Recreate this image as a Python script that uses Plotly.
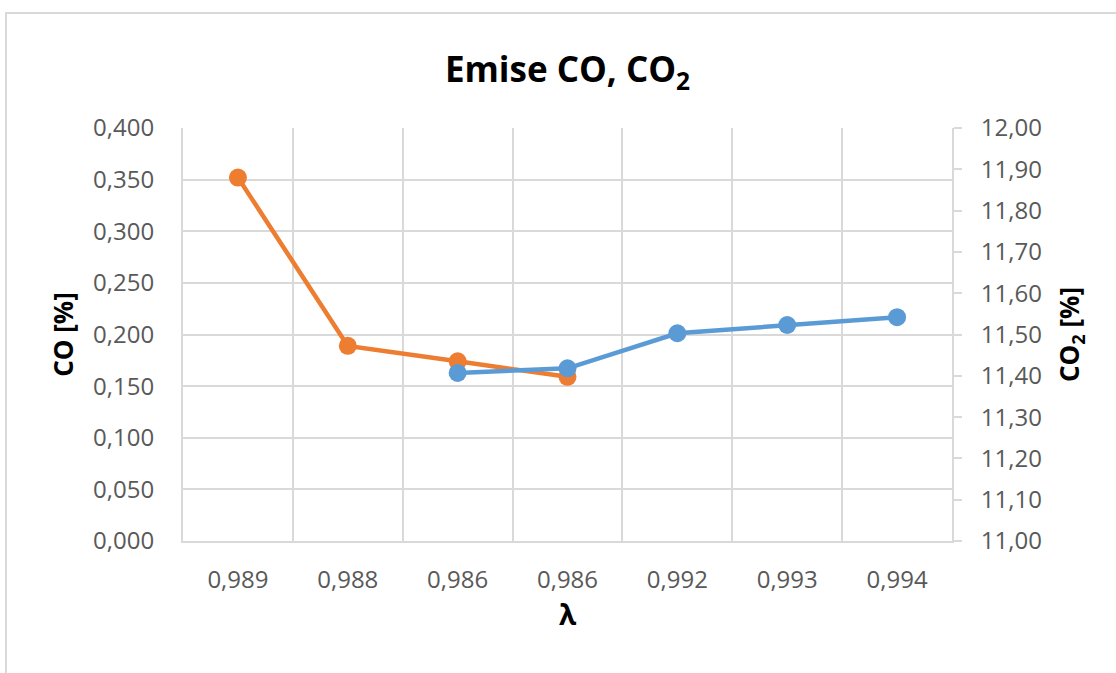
import plotly.graph_objects as go

# Lambda values for each measurement (shown as category labels)
lambda_labels = ["0,989", "0,988", "0,986", "0,986", "0,992", "0,993", "0,994"]
positions = list(range(len(lambda_labels)))

# CO [%] (left axis) and CO2 [%] (right axis)
co_values = [0.352, 0.189, 0.174, 0.159, None, None, None]
co2_values = [None, None, 11.407, 11.418, 11.503, 11.523, 11.542]

ORANGE = "#ED7D31"
BLUE = "#5B9BD5"
GRID = "#d9d9d9"
TICK_TEXT = "#595959"
FONT = "Open Sans"

fig = go.Figure()

fig.add_trace(go.Scatter(
    x=positions, y=co_values, name="CO",
    mode="lines+markers",
    line=dict(color=ORANGE, width=4.5),
    marker=dict(color=ORANGE, size=18),
    yaxis="y",
))

fig.add_trace(go.Scatter(
    x=positions, y=co2_values, name="CO<sub>2</sub>",
    mode="lines+markers",
    line=dict(color=BLUE, width=4.5),
    marker=dict(color=BLUE, size=18),
    yaxis="y2",
))

# chart frame
fig.add_shape(
    type="rect", xref="paper", yref="paper",
    x0=-0.2302, x1=1.4, y0=-0.6, y1=1.2785,
    line=dict(color=GRID, width=2), fillcolor="rgba(0,0,0,0)",
    layer="below",
)

fig.update_layout(
    width=1116, height=673,
    margin=dict(l=183, r=164, t=128, b=132),
    paper_bgcolor="white", plot_bgcolor="white",
    separators=", ",
    showlegend=False,
    font=dict(family=FONT, color=TICK_TEXT),
    title=dict(
        text="<b>Emise CO, CO<sub>2</sub></b>",
        font=dict(family=FONT, size=35, color="black"),
        x=0.5, xref="paper", xanchor="center",
        y=1 - 70 / 673, yref="container", yanchor="middle",
    ),
    xaxis=dict(
        range=[-0.5, len(lambda_labels) - 0.5],
        tickmode="array", tickvals=positions, ticktext=lambda_labels,
        tickfont=dict(size=24, color=TICK_TEXT),
        ticks="", ticklabelstandoff=16,
        showgrid=False, zeroline=False,
        showline=True, linecolor=GRID, linewidth=2,
        minor=dict(
            tickmode="array",
            tickvals=[p + 0.5 for p in positions[:-1]],
            showgrid=True, gridcolor=GRID, gridwidth=2, ticks="",
        ),
        title=dict(text="<b>λ</b>", font=dict(size=28, color="black"), standoff=12),
    ),
    yaxis=dict(
        range=[0, 0.4], dtick=0.05, tickformat=".3f",
        tickfont=dict(size=24, color=TICK_TEXT),
        ticks="", ticklabelstandoff=22,
        showgrid=True, gridcolor=GRID, gridwidth=2,
        zeroline=False,
        showline=True, linecolor=GRID, linewidth=2,
        title=dict(text="<b>CO [%]</b>", font=dict(size=26, color="black"), standoff=12),
    ),
    yaxis2=dict(
        range=[11, 12], dtick=0.1, tickformat=".2f",
        overlaying="y", side="right",
        tickfont=dict(size=24, color=TICK_TEXT),
        ticks="outside", ticklen=8, tickwidth=2, tickcolor=GRID,
        ticklabelstandoff=14,
        showgrid=False, zeroline=False,
        showline=True, linecolor=GRID, linewidth=2,
        title=dict(text="<b>CO<sub>2</sub> [%]</b>", font=dict(size=26, color="black"), standoff=20),
    ),
)

fig.write_html("out.html")
